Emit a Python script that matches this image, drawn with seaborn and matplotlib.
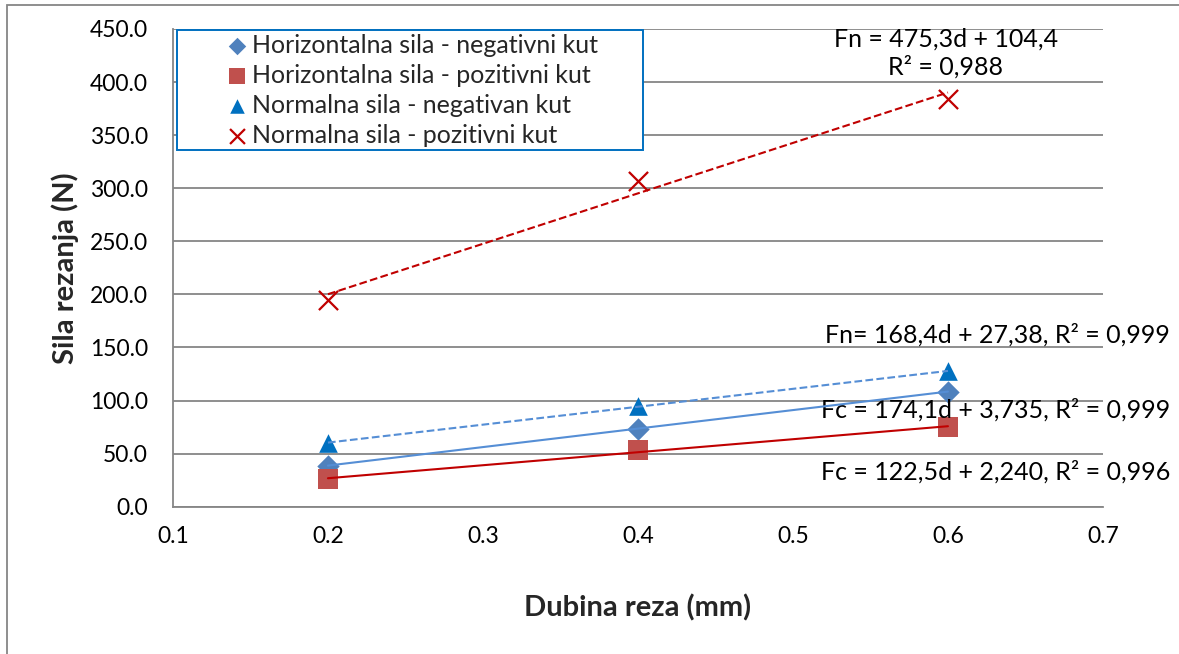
import numpy as np
import pandas as pd
import matplotlib.pyplot as plt
import seaborn as sns
from matplotlib.patches import Rectangle

depth = [0.2, 0.4, 0.6]
horiz_neg = [38.8, 73.5, 108.5]
horiz_pos = [26.0, 53.0, 75.0]
norm_neg = [60.0, 95.0, 127.5]
norm_pos = [194.5, 306.5, 384.5]

labels = [
    "Horizontalna sila - negativni kut",
    "Horizontalna sila - pozitivni kut",
    "Normalna sila - negativan kut",
    "Normalna sila - pozitivni kut",
]
equations = [
    "Fc = 174,1d + 3,735, R² = 0,999",
    "Fc = 122,5d + 2,240, R² = 0,996",
    "Fn= 168,4d + 27,38, R² = 0,999",
    "Fn = 475,3d + 104,4\nR² = 0,988",
]

sns.set_style("white")
plt.rcParams["font.family"] = ["Lato", "DejaVu Sans"]

fig = plt.figure(figsize=(11.79, 6.54), dpi=100)
ax = fig.add_axes([0.1467, 0.2252, 0.7888, 0.7305])

series = [
    (horiz_neg, "#4F81BD", "D", 130, "#558ED5", "-"),
    (horiz_pos, "#C0504D", "s", 220, "#C00000", "-"),
    (norm_neg, "#0070C0", "^", 180, "#558ED5", "--"),
    (norm_pos, "#C00000", "x", 190, "#C00000", "--"),
]

for (vals, col, mk, sz, lcol, ls), lab in zip(series, labels):
    df = pd.DataFrame({"d": depth, "F": vals})
    sns.regplot(
        data=df, x="d", y="F", ax=ax, ci=None, truncate=True, marker=mk,
        label=lab,
        scatter_kws=dict(s=sz, color=col, alpha=1,
                         linewidths=1.6 if mk == "x" else 0, zorder=3),
        line_kws=dict(color=lcol, lw=1.5, ls=ls, zorder=4),
    )

ax.set_xlim(0.1, 0.7)
ax.set_ylim(0, 450)
ax.set_xticks(np.arange(0.1, 0.71, 0.1))
ax.set_xticklabels([f"{v:.1f}" for v in np.arange(0.1, 0.71, 0.1)])
ax.set_yticks(np.arange(0, 451, 50))
ax.set_yticklabels([f"{v:.1f}" for v in np.arange(0, 451, 50)])
ax.tick_params(axis="both", labelsize=16.5, colors="#000000", length=0)
ax.tick_params(axis="y", pad=18)
ax.tick_params(axis="x", pad=14)

ax.grid(axis="y", color="#868686", lw=1.3)
ax.set_axisbelow(True)
for s in ["top", "right"]:
    ax.spines[s].set_visible(False)
for s in ["left", "bottom"]:
    ax.spines[s].set_color("#868686")
    ax.spines[s].set_linewidth(1.3)

ax.set_xlabel("Dubina reza (mm)", fontsize=21, fontweight="bold", labelpad=34)
ax.set_ylabel("Sila rezanja (N)", fontsize=21, fontweight="bold", labelpad=8)

# legend box drawn separately, legend entries without frame
ax.add_patch(Rectangle((0.0043, 0.7467), 0.501, 0.2512, transform=ax.transAxes,
                       facecolor="white", edgecolor="#0070C0", lw=1.4, zorder=5))
leg = ax.legend(loc="upper left", bbox_to_anchor=(0.0554, 0.9895), fontsize=18,
                frameon=False, markerscale=0.78, handletextpad=0.1,
                labelspacing=0.28, borderpad=0, handlelength=1.0,
                borderaxespad=0)
leg.set_zorder(6)

txt = dict(fontsize=18, color="#000000")
ax.text(0.7432, 91, equations[0], ha="right", va="center", **txt)
ax.text(0.7432, 32.7, equations[1], ha="right", va="center", **txt)
ax.text(0.7432, 161.6, equations[2], ha="right", va="center", **txt)
ax.text(0.5987, 427, equations[3], ha="center", va="center", linespacing=1.25, **txt)

fig.patches.append(Rectangle((0.006, -0.1), 1.1, 1.0924, transform=fig.transFigure,
                             fill=False, edgecolor="#868686", lw=1.3))

fig.savefig("out.png", dpi=100)
